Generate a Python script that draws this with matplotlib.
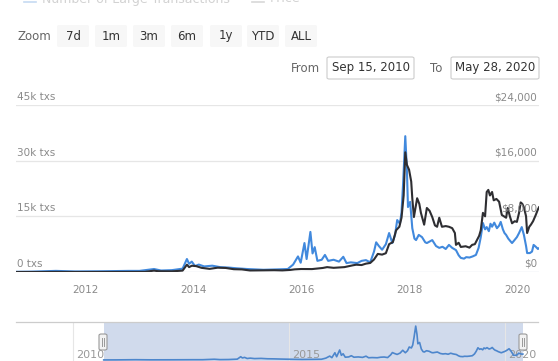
import matplotlib
matplotlib.use("Agg")
import matplotlib.pyplot as plt
from matplotlib.patches import FancyBboxPatch
from matplotlib.lines import Line2D

# ---- data -------------------------------------------------------------
# number of large transactions (thousands) by decimal year
tx_years = [
    2010.71, 2011.0, 2011.45, 2011.8, 2012.3, 2012.8, 2013.0, 2013.27, 2013.4, 2013.6,
    2013.8, 2013.88, 2013.92, 2013.97, 2014.03, 2014.1, 2014.2, 2014.35, 2014.5, 2014.65,
    2014.8, 2015.0, 2015.3, 2015.55, 2015.75, 2015.85, 2015.94, 2015.99, 2016.06, 2016.1,
    2016.17, 2016.21, 2016.25, 2016.3, 2016.38, 2016.44, 2016.5, 2016.6, 2016.7, 2016.78,
    2016.84, 2016.92, 2017.04, 2017.12, 2017.2, 2017.28, 2017.35, 2017.39, 2017.44, 2017.5,
    2017.57, 2017.63, 2017.69, 2017.74, 2017.78, 2017.83, 2017.86, 2017.89, 2017.93, 2017.96,
    2017.98, 2018.02, 2018.06, 2018.1, 2018.13, 2018.18, 2018.24, 2018.3, 2018.33, 2018.38,
    2018.43, 2018.5, 2018.56, 2018.62, 2018.68, 2018.74, 2018.8, 2018.87, 2018.92, 2018.96,
    2019.02, 2019.06, 2019.12, 2019.18, 2019.24, 2019.29, 2019.33, 2019.37, 2019.41, 2019.44,
    2019.48, 2019.51, 2019.54, 2019.58, 2019.63, 2019.67, 2019.7, 2019.74, 2019.77, 2019.8,
    2019.84, 2019.88, 2019.91, 2019.95, 2020.0, 2020.04, 2020.09, 2020.13, 2020.17, 2020.19,
    2020.24, 2020.28, 2020.31, 2020.35, 2020.39, 2020.41,
]
tx_counts_k = [
    0.05, 0.1, 0.3, 0.15, 0.2, 0.3, 0.3, 0.8, 0.4, 0.5,
    0.9, 3.5, 2.2, 2.8, 1.6, 2.0, 1.5, 1.7, 1.3, 1.2,
    1.0, 0.8, 0.6, 0.7, 0.8, 2.0, 4.2, 2.5, 7.8, 3.5,
    10.8, 5.0, 6.7, 3.0, 3.3, 4.6, 3.0, 3.3, 2.8, 4.1,
    2.4, 2.6, 2.4, 3.0, 3.2, 2.6, 5.5, 8.0, 7.0, 6.0,
    7.5, 10.5, 7.8, 10.0, 14.0, 13.0, 16.0, 24.0, 36.6, 27.5,
    17.5, 18.9, 11.8, 9.0, 8.6, 10.0, 9.4, 8.0, 7.8, 8.2,
    8.6, 7.0, 6.5, 6.8, 6.2, 7.3, 6.5, 5.9, 4.5, 3.8,
    3.6, 4.0, 3.9, 4.2, 4.6, 6.5, 9.4, 13.2, 11.5, 12.1,
    11.0, 13.0, 12.2, 13.3, 11.8, 12.5, 13.5, 11.5, 10.5, 10.0,
    9.0, 8.3, 7.8, 8.5, 9.4, 10.5, 12.1, 10.0, 7.0, 5.1,
    5.1, 5.5, 7.3, 6.8, 6.2, 6.4,
]

# price (USD) by decimal year
price_years = [
    2010.71, 2011.0, 2011.2, 2011.45, 2011.6, 2011.9, 2012.2, 2012.6, 2012.9, 2013.1,
    2013.27, 2013.35, 2013.6, 2013.8, 2013.88, 2013.92, 2013.97, 2014.05, 2014.15, 2014.3,
    2014.45, 2014.6, 2014.75, 2014.9, 2015.05, 2015.3, 2015.5, 2015.65, 2015.8, 2015.88,
    2016.0, 2016.2, 2016.4, 2016.48, 2016.6, 2016.8, 2016.95, 2017.02, 2017.12, 2017.2,
    2017.28, 2017.35, 2017.42, 2017.5, 2017.57, 2017.63, 2017.7, 2017.76, 2017.82, 2017.86,
    2017.9, 2017.93, 2017.96, 2018.0, 2018.04, 2018.06, 2018.09, 2018.15, 2018.19, 2018.22,
    2018.28, 2018.33, 2018.38, 2018.43, 2018.48, 2018.52, 2018.56, 2018.61, 2018.68, 2018.74,
    2018.8, 2018.85, 2018.87, 2018.92, 2018.96, 2019.05, 2019.12, 2019.17, 2019.22, 2019.26,
    2019.3, 2019.33, 2019.37, 2019.41, 2019.44, 2019.47, 2019.5, 2019.54, 2019.57, 2019.62,
    2019.67, 2019.72, 2019.76, 2019.8, 2019.83, 2019.87, 2019.91, 2019.96, 2020.0, 2020.04,
    2020.07, 2020.1, 2020.13, 2020.17, 2020.19, 2020.23, 2020.26, 2020.3, 2020.35, 2020.39,
    2020.41,
]
price_usd = [
    0.06, 0.3, 0.9, 18, 10, 3, 5, 10, 13, 20,
    200, 110, 95, 200, 1050, 700, 900, 850, 600, 450,
    620, 580, 400, 370, 220, 240, 260, 230, 300, 380,
    430, 420, 580, 700, 600, 700, 950, 1050, 1000, 1200,
    1300, 1800, 2600, 2500, 2700, 4000, 4300, 6000, 6500, 7800,
    11000, 17200, 15400, 14700, 13000, 10600, 7900, 10600, 9800, 8500,
    6800, 9200, 8800, 7900, 6700, 6500, 7800, 6500, 6600, 6500,
    6300, 5600, 3900, 4200, 3600, 3700, 3500, 3900, 4000, 4600,
    5200, 6000, 8500, 8000, 11500, 11800, 11000, 11500, 10300, 10500,
    10100, 8200, 8000, 7800, 9200, 8000, 7000, 7300, 7200, 8500,
    10000, 9800, 9300, 8000, 5600, 6500, 6800, 7300, 8200, 9000,
    9300,
]

left_ticks_k = [0, 15, 30, 45]
right_ticks_usd = [0, 8000, 16000, 24000]
year_ticks = [2012, 2014, 2016, 2018, 2020]
nav_year_ticks = [2010, 2015, 2020]
zoom_buttons = ["7d", "1m", "3m", "6m", "1y", "YTD", "ALL"]
range_from = "Sep 15, 2010"
range_to = "May 28, 2020"
series_names = ["Number of Large Transactions", "Price"]

# ---- styling ----------------------------------------------------------
W, H = 558, 361
BLUE = "#4189dd"
DARK = "#2e2e32"
GRID = "#e6e6e6"
LABEL = "#8a8a8a"
plt.rcParams["font.family"] = ["DejaVu Sans"]

fig = plt.figure(figsize=(W / 100, H / 100), dpi=100)
fig.patch.set_facecolor("white")


def fx(x):
    return x / W


def fy(y):
    return 1 - y / H


def box(x0, y0, x1, y1, **kw):
    """Rectangle in pixel coordinates (top-left origin)."""
    r = FancyBboxPatch((fx(x0), fy(y1)), fx(x1) - fx(x0), fy(y0) - fy(y1),
                       boxstyle="round,pad=0,rounding_size=0.004",
                       transform=fig.transFigure, **kw)
    fig.patches.append(r)


def hline(x0, x1, y, **kw):
    fig.lines.append(Line2D([fx(x0), fx(x1)], [fy(y), fy(y)],
                            transform=fig.transFigure, **kw))


# ---- legend row (runs off the top edge) --------------------------------
hline(24, 36, 1.5, color="#c6daf2", lw=1.2)
fig.text(fx(42), fy(2.5), series_names[0], fontsize=9, color="#d2d2d2",
         ha="left", va="baseline")
hline(252, 264, 1.5, color="#d8d8d8", lw=1.2)
fig.text(fx(270), fy(2.5), series_names[1], fontsize=9, color="#d2d2d2",
         ha="left", va="baseline")

# ---- range selector ----------------------------------------------------
fig.text(fx(17), fy(36), "Zoom", fontsize=8.5, color="#666666", ha="left", va="center")
btn_centers = [73, 111, 149, 187, 226, 263, 301]
for label, cx in zip(zoom_buttons, btn_centers):
    box(cx - 16, 25, cx + 16, 47, facecolor="#f7f7f7", edgecolor="none")
    fig.text(fx(cx), fy(36), label, fontsize=8.5, color="#333333", ha="center", va="center")

fig.text(fx(305), fy(68), "From", fontsize=8.5, color="#666666", ha="center", va="center")
box(327, 57, 414, 79, facecolor="white", edgecolor="#cccccc", linewidth=0.8)
fig.text(fx(370.5), fy(68), range_from, fontsize=8.5, color="#333333", ha="center", va="center")
fig.text(fx(436), fy(68), "To", fontsize=8.5, color="#666666", ha="center", va="center")
box(451, 57, 539, 79, facecolor="white", edgecolor="#cccccc", linewidth=0.8)
fig.text(fx(495), fy(68), range_to, fontsize=8.5, color="#333333", ha="center", va="center")

# ---- main chart --------------------------------------------------------
ax = fig.add_axes([fx(16), fy(272), fx(539) - fx(16), fy(105) - fy(272)])
ax.set_xlim(price_years[0], price_years[-1])
ax.set_ylim(0, 45)
ax2 = ax.twinx()
ax2.set_ylim(0, 24000)
for a in (ax, ax2):
    a.set_facecolor("none")
    for s in a.spines.values():
        s.set_visible(False)
    a.set_xticks([])
    a.set_yticks([])

for v in left_ticks_k[1:]:
    ax.axhline(v, color=GRID, lw=0.9, zorder=0)
ax.axhline(0, color="#cfd6e4", lw=0.9, zorder=0)

ax.plot(tx_years, tx_counts_k, color=BLUE, lw=1.5, zorder=2, solid_joinstyle="round")
ax2.plot(price_years, price_usd, color=DARK, lw=1.5, zorder=3, solid_joinstyle="round")

for v in left_ticks_k:
    text = f"{v}k txs" if v else "0 txs"
    ax.annotate(text, xy=(0, v), xycoords=("axes fraction", "data"),
                xytext=(1, 3), textcoords="offset pixels", ha="left", va="bottom",
                fontsize=7.5, color=LABEL, annotation_clip=False)
for v in right_ticks_usd:
    ax2.annotate(f"${v:,}", xy=(1, v), xycoords=("axes fraction", "data"),
                 xytext=(-2, 3), textcoords="offset pixels", ha="right", va="bottom",
                 fontsize=7.5, color=LABEL, annotation_clip=False, zorder=5)
for yr in year_ticks:
    ax.annotate(str(yr), xy=(yr, 0), xycoords=("data", "axes fraction"),
                xytext=(0, -18), textcoords="offset pixels", ha="center", va="center",
                fontsize=7.5, color=LABEL, annotation_clip=False)

# ---- navigator ---------------------------------------------------------
nav = fig.add_axes([fx(16), fy(361), fx(538) - fx(16), fy(322) - fy(361)])
nav.set_xlim(2008.68, 2020.76)
nav.set_ylim(-1.1, 41)
for s in nav.spines.values():
    s.set_visible(False)
nav.set_xticks([])
nav.set_yticks([])
nav.set_facecolor("none")
nav.axvspan(price_years[0], price_years[-1], color="#6685c2", alpha=0.3, lw=0, zorder=0)
for yr in nav_year_ticks:
    nav.axvline(yr, color=GRID, lw=0.8, zorder=0.5)
    nav.annotate(str(yr), xy=(yr, 0), xycoords=("data", "axes fraction"),
                 xytext=(3, 6), textcoords="offset pixels", ha="left", va="center",
                 fontsize=8, color="#999999", annotation_clip=False, zorder=1)
nav.plot(tx_years, tx_counts_k, color="#4d86cc", lw=1.2, zorder=2)
hline(16, 538, 322, color="#cccccc", lw=0.9)

# selection handles
for hx in (103, 523):
    box(hx - 4, 334, hx + 4, 350, facecolor="#f2f2f2", edgecolor="#999999", linewidth=0.8)
    for dx in (-1, 1):
        fig.lines.append(Line2D([fx(hx + dx), fx(hx + dx)], [fy(338), fy(346)],
                                color="#999999", lw=0.7, transform=fig.transFigure))

fig.savefig("out.png", dpi=100, facecolor="white")
